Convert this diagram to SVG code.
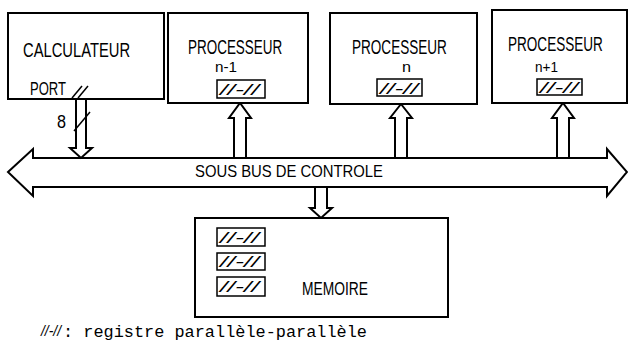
<svg xmlns="http://www.w3.org/2000/svg" width="628" height="347" viewBox="0 0 628 347">
<style>
.box{fill:#fff;stroke:#000;stroke-width:2}
.reg{fill:#fff;stroke:#000;stroke-width:1.5}
.arr{fill:#fff;stroke:#000;stroke-width:2;stroke-linejoin:miter}
.t{font-family:"Liberation Sans Narrow","Liberation Sans",Arial,sans-serif;fill:#000}
.h{font-family:"Liberation Sans",Arial,sans-serif;font-size:21px;fill:#000}
.r{font-family:"Liberation Sans",Arial,sans-serif;font-style:italic;font-size:15px;fill:#000}
.m{font-family:"Liberation Mono","DejaVu Sans Mono",monospace;fill:#000}
.ln{stroke:#000;stroke-width:1.5;fill:none}
</style>
<rect width="628" height="347" fill="#fff"/>
<g id="connectors">
<polygon class="arr" points="8,172 33,149 33,158 607,158 607,149 627,172 607,196 607,187 33,187 33,196"/>
<polygon class="arr" points="76,99 86,99 86,148 92,148 81,158 70,148 76,148"/>
<polygon class="arr" points="234,158 246,158 246,118 251,118 240,103 229,118 234,118"/>
<polygon class="arr" points="395,158 407,158 407,118 412,118 401,104 390,118 395,118"/>
<polygon class="arr" points="557,158 569,158 569,118 574,118 563,103 552,118 557,118"/>
<polygon class="arr" points="315,187 327,187 327,208 332,208 321,218 310,208 315,208"/>
<line class="ln" x1="74" y1="131" x2="90" y2="112"/>
<text class="t" x="57" y="128" font-size="18" textLength="9" lengthAdjust="spacingAndGlyphs">8</text>
<text class="t" x="195" y="177" font-size="16.5" textLength="188" lengthAdjust="spacingAndGlyphs">SOUS BUS DE CONTROLE</text>
</g>
<g id="calculateur">
<rect class="box" x="8" y="13" width="156" height="86"/>
<text class="h" transform="translate(23,57) scale(0.7,1)" textLength="153" lengthAdjust="spacingAndGlyphs">CALCULATEUR</text>
<text class="t" x="30" y="95" font-size="19" textLength="36" lengthAdjust="spacingAndGlyphs">PORT</text>
<line class="ln" x1="72" y1="98" x2="82" y2="86"/>
<line class="ln" x1="78" y1="98" x2="88" y2="86"/>
</g>
<g id="processeur-n-1">
<rect class="box" x="168" y="13" width="140" height="90"/>
<text class="h" transform="translate(188,54) scale(0.65,1)" textLength="145" lengthAdjust="spacingAndGlyphs">PROCESSEUR</text>
<text class="t" x="215" y="72" font-size="15" textLength="22" lengthAdjust="spacingAndGlyphs">n-1</text>
<rect class="reg" x="217" y="80" width="48" height="18"/>
<text class="r" x="220" y="95" textLength="39" lengthAdjust="spacingAndGlyphs">//-//</text>
</g>
<g id="processeur-n">
<rect class="box" x="330" y="13" width="147" height="91"/>
<text class="h" transform="translate(352,54) scale(0.65,1)" textLength="146" lengthAdjust="spacingAndGlyphs">PROCESSEUR</text>
<text class="t" x="402" y="72" font-size="15" textLength="9" lengthAdjust="spacingAndGlyphs">n</text>
<rect class="reg" x="377" y="79" width="45" height="17"/>
<text class="r" x="380" y="94" textLength="38" lengthAdjust="spacingAndGlyphs">//-//</text>
</g>
<g id="processeur-n1">
<rect class="box" x="492" y="10" width="135" height="93"/>
<text class="h" transform="translate(508,51) scale(0.65,1)" textLength="146" lengthAdjust="spacingAndGlyphs">PROCESSEUR</text>
<text class="t" x="535" y="72" font-size="15" textLength="23" lengthAdjust="spacingAndGlyphs">n+1</text>
<rect class="reg" x="537" y="79" width="45" height="16"/>
<text class="r" x="540" y="93" textLength="38" lengthAdjust="spacingAndGlyphs">//-//</text>
</g>
<g id="memoire">
<rect class="box" x="195" y="218" width="253" height="99"/>
<rect class="reg" x="217" y="228" width="48" height="18"/>
<text class="r" x="220" y="243" textLength="39" lengthAdjust="spacingAndGlyphs">//-//</text>
<rect class="reg" x="217" y="253" width="48" height="17"/>
<text class="r" x="220" y="267" textLength="39" lengthAdjust="spacingAndGlyphs">//-//</text>
<rect class="reg" x="217" y="277" width="48" height="19"/>
<text class="r" x="220" y="292" textLength="39" lengthAdjust="spacingAndGlyphs">//-//</text>
<text class="t" x="302" y="295" font-size="18" textLength="66" lengthAdjust="spacingAndGlyphs">MEMOIRE</text>
</g>
<g id="legende">
<text class="r" x="41" y="336" font-size="15" textLength="20" lengthAdjust="spacingAndGlyphs">//-//</text>
<text class="m" x="63" y="337" font-size="16" textLength="304" lengthAdjust="spacingAndGlyphs">: registre parallèle-parallèle</text>
</g>
</svg>
